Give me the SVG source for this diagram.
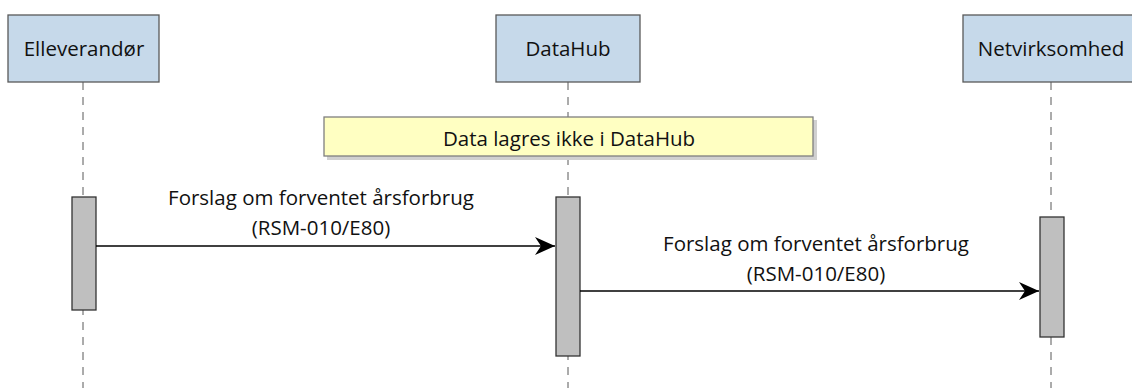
<svg xmlns="http://www.w3.org/2000/svg" width="1132" height="388" viewBox="0 0 1132 388">
<defs>
<style>
.actor{fill:#c6d9ea;stroke:#595959;stroke-width:1.3}
.life{stroke:#595959;stroke-width:1;stroke-dasharray:8,7;fill:none}
.act{fill:#bfbfbf;stroke:#333;stroke-width:1.3}
.msg{stroke:#000;stroke-width:1.3;fill:none;marker-end:url(#ah)}
.t{font-family:"Open Sans","Liberation Sans",sans-serif;font-size:20.5px;fill:#111;text-anchor:middle}
.note{fill:#ffffc2;stroke:#7f7f7f;stroke-width:1.3}
.shadow{fill:#d0d0d0}
</style>
<marker id="ah" markerWidth="22" markerHeight="18" refX="20" refY="9" orient="auto" markerUnits="userSpaceOnUse">
<path d="M0,0 L20,9 L0,18 L6,9 Z" fill="#000"/>
</marker>
</defs>
<rect width="1132" height="388" fill="#fff"/>
<g id="lifelines">
<line class="life" x1="83" y1="82" x2="83" y2="388"/>
<line class="life" x1="568" y1="82" x2="568" y2="388"/>
<line class="life" x1="1051" y1="82" x2="1051" y2="388"/>
</g>
<g id="elleverandor">
<rect class="actor" x="8" y="15" width="151" height="67"/>
<text class="t" x="84" y="56">Elleverandør</text>
</g>
<g id="datahub">
<rect class="actor" x="496" y="15" width="144" height="67"/>
<text class="t" x="568" y="56">DataHub</text>
</g>
<g id="netvirksomhed">
<rect class="actor" x="963" y="15" width="176" height="67"/>
<text class="t" x="1051" y="56">Netvirksomhed</text>
</g>
<g id="note">
<rect class="shadow" x="327" y="120" width="490" height="40"/>
<rect class="note" x="324" y="117" width="489" height="39"/>
<text class="t" x="569" y="146">Data lagres ikke i DataHub</text>
</g>
<g id="act-elleverandor"><rect class="act" x="72" y="197" width="24" height="113"/></g>
<g id="act-datahub"><rect class="act" x="556" y="197" width="24" height="159"/></g>
<g id="act-netvirksomhed"><rect class="act" x="1040" y="217" width="24" height="120"/></g>
<g id="connectors">
<line class="msg" x1="96" y1="246" x2="555" y2="246"/>
<line class="msg" x1="580" y1="291" x2="1039" y2="291"/>
</g>
<g id="labels">
<text class="t" x="321" y="205">Forslag om forventet årsforbrug</text>
<text class="t" x="321" y="235">(RSM-010/E80)</text>
<text class="t" x="816" y="251">Forslag om forventet årsforbrug</text>
<text class="t" x="816" y="281">(RSM-010/E80)</text>
</g>
</svg>
